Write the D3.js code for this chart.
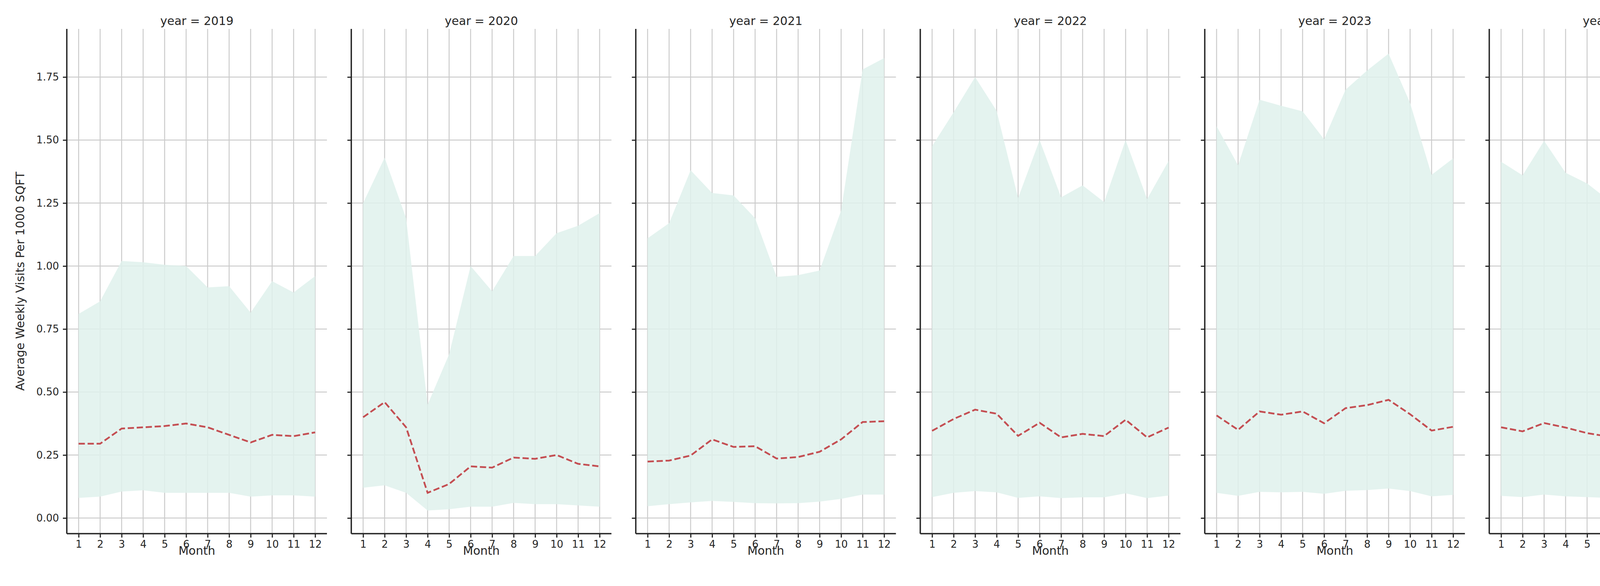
<!DOCTYPE html>
<html><head><meta charset="utf-8">
<script src="https://cdn.jsdelivr.net/npm/d3@7"></script>
<style>body{margin:0;background:#fff}text{font-family:"DejaVu Sans",sans-serif;fill:#262626}</style>
</head><body><svg id="c" width="5250" height="1500"></svg>
<script>
const years=[2019,2020,2021,2022,2023,2024,2025];
const months=[1,2,3,4,5,6,7,8,9,10,11,12];
const yTicks=[0,0.25,0.5,0.75,1.0,1.25,1.5,1.75];
const upper=[
[.81,.86,1.02,1.015,1.005,1.0,.915,.92,.815,.94,.895,.96],
[1.25,1.43,1.19,.45,.65,1.0,.90,1.04,1.04,1.13,1.16,1.21],
[1.11,1.17,1.38,1.29,1.28,1.19,.957,.964,.982,1.22,1.78,1.825],
[1.476,1.61,1.75,1.616,1.27,1.50,1.273,1.32,1.254,1.50,1.266,1.417],
[1.555,1.40,1.66,1.636,1.614,1.503,1.70,1.776,1.843,1.647,1.362,1.427],
[1.414,1.36,1.497,1.37,1.328,1.261,1.407,1.344,1.349,1.527,1.292,1.457],
[1.384,1.291,1.558,1.254]];
const lower=[
[.08,.085,.105,.11,.1,.1,.1,.1,.085,.09,.09,.085],
[.12,.13,.1,.03,.035,.045,.045,.06,.055,.055,.05,.045],
[.047,.055,.062,.068,.064,.059,.058,.059,.065,.076,.093,.093],
[.083,.10,.107,.102,.08,.086,.079,.082,.082,.098,.079,.089],
[.10,.088,.104,.102,.104,.096,.108,.111,.117,.107,.086,.092],
[.088,.083,.093,.086,.083,.08,.086,.083,.083,.096,.08,.092],
[.086,.08,.098,.08]];
const median=[
[.295,.295,.355,.36,.365,.375,.36,.33,.30,.33,.325,.34],
[.40,.46,.36,.10,.135,.205,.20,.24,.235,.25,.215,.205],
[.224,.228,.248,.312,.282,.285,.236,.242,.263,.312,.381,.384],
[.346,.393,.43,.414,.326,.378,.32,.334,.325,.39,.32,.359],
[.407,.35,.423,.41,.423,.376,.436,.448,.469,.412,.347,.362],
[.36,.344,.377,.359,.337,.323,.349,.338,.34,.389,.326,.369],
[.352,.329,.407,.312]];

const svg=d3.select("#c");
const topY=74,botY=1366,pw=666,x0=171,step=728.3;
const y=d3.scaleLinear().domain([-0.062,1.941]).range([botY,topY]);
const fill="#dff1ec",red="#c44e52",grid="#cccccc",axc="#262626";
years.forEach((yr,i)=>{
  const left=x0+i*step;
  const x=d3.scaleLinear().domain([0.45,12.55]).range([left,left+pw]);
  const g=svg.append("g");
  g.selectAll(".gx").data(months).join("line").attr("x1",d=>x(d)).attr("x2",d=>x(d)).attr("y1",topY).attr("y2",botY).attr("stroke",grid).attr("stroke-width",2.5);
  g.selectAll(".gy").data(yTicks).join("line").attr("x1",left).attr("x2",left+pw).attr("y1",d=>y(d)).attr("y2",d=>y(d)).attr("stroke",grid).attr("stroke-width",2.5);
  const data=upper[i].map((u,j)=>({m:months[j],u,l:lower[i][j],md:median[i][j]}));
  g.append("path").datum(data).attr("fill",fill).attr("fill-opacity",0.85)
    .attr("d",d3.area().x(d=>x(d.m)).y0(d=>y(d.l)).y1(d=>y(d.u)));
  g.append("path").datum(data).attr("fill","none").attr("stroke",red).attr("stroke-width",4.5).attr("stroke-dasharray","16,7")
    .attr("d",d3.line().x(d=>x(d.m)).y(d=>y(d.md)));
  const ax=g.append("g").attr("transform",`translate(0,${botY})`).call(d3.axisBottom(x).tickValues(months).tickSize(10).tickPadding(8));
  const ay=g.append("g").attr("transform",`translate(${left},0)`).call(d3.axisLeft(y).tickValues(yTicks).tickSize(10).tickPadding(10).tickFormat(i===0?d3.format(".2f"):()=>""));
  [ax,ay].forEach(a=>{a.select(".domain").attr("stroke",axc).attr("stroke-width",3.5);
    a.selectAll(".tick line").attr("stroke",axc).attr("stroke-width",3);
    a.selectAll("text").attr("font-size",26).attr("font-family","DejaVu Sans").attr("fill",axc);});
  ax.select(".domain").attr("d",`M${left},0H${left+pw}`);
  ay.select(".domain").attr("d",`M0,${botY}V${topY}`);
  g.append("text").attr("x",left+pw/2).attr("y",1420).attr("text-anchor","middle").attr("font-size",30).text("Month");
  g.append("text").attr("x",left+pw/2).attr("y",64).attr("text-anchor","middle").attr("font-size",30).text(`year = ${yr}`);
  if(i===6){
    const lg=g.append("g").attr("transform",`translate(${left+215},118)`);
    lg.append("rect").attr("width",460).attr("height",112).attr("rx",6).attr("fill","#fff").attr("fill-opacity",0.8).attr("stroke","#cccccc").attr("stroke-width",2);
    lg.append("line").attr("x1",12).attr("x2",66).attr("y1",30).attr("y2",30).attr("stroke",red).attr("stroke-width",4.5).attr("stroke-dasharray","12,6");
    lg.append("text").attr("x",88).attr("y",40).attr("font-size",30).text("Median");
    lg.append("rect").attr("x",12).attr("y",68).attr("width",54).attr("height",22).attr("fill",fill);
    lg.append("text").attr("x",88).attr("y",90).attr("font-size",30).text("25th-75th Percentile");
  }
});
svg.append("text").attr("transform",`translate(62,${(topY+botY)/2}) rotate(-90)`).attr("text-anchor","middle").attr("font-size",30).text("Average Weekly Visits Per 1000 SQFT");
</script></body></html>
